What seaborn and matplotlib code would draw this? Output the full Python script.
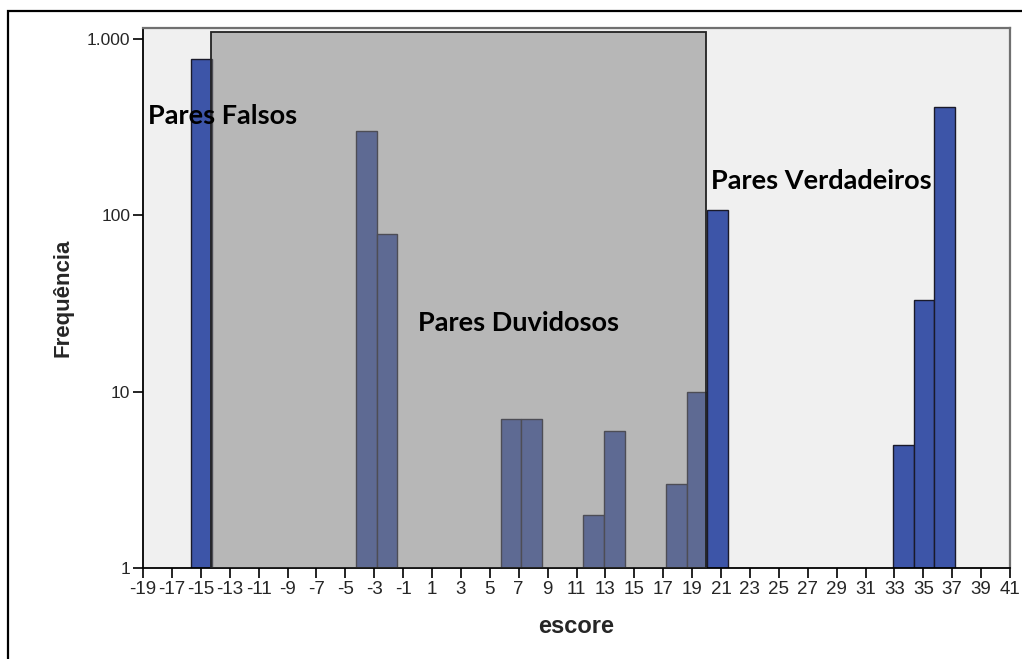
import numpy as np
import pandas as pd
import matplotlib
matplotlib.use("Agg")
import matplotlib.pyplot as plt
from matplotlib.patches import Rectangle
import seaborn as sns

# ---- data ----
bin_start = -15.68
bin_width = 1.429
n_bins = 37
bin_index = [0, 8, 9, 15, 16, 19, 20, 23, 24, 25, 34, 35, 36]
frequencia = [770, 300, 78, 7, 7, 2, 6, 3, 10, 108, 5, 33, 410]

x_ticks = list(range(-19, 42, 2))
x_tick_labels = [str(v) for v in x_ticks]
y_ticks = [1, 10, 100, 1000]
y_tick_labels = ["1", "10", "100", "1.000"]

region_duvidosos = (-14.3, 19.95)   # shaded region, score units
region_top = 1100

labels = ["Pares Falsos", "Pares Duvidosos", "Pares Verdadeiros"]
label_x = [-18.65, 0.0, 20.3]
label_y = [366, 24.5, 157]

# ---- build ----
centers = [bin_start + bin_width * (i + 0.5) for i in bin_index]
df = pd.DataFrame({"escore": centers, "freq": frequencia})

sns.set_style("white")
plt.rcParams["axes.unicode_minus"] = False

fig = plt.figure(figsize=(10.22, 6.59), dpi=100)
ax = fig.add_axes([143 / 1022, 1 - 568 / 659, 867 / 1022, 540 / 659])
ax.set_facecolor("#f0f0f0")

sns.histplot(data=df, x="escore", weights="freq", binwidth=bin_width,
             binrange=(bin_start, bin_start + n_bins * bin_width), ax=ax,
             color="#3d55a8", edgecolor="#1a1a2a", linewidth=1.0, alpha=1.0)

ax.set_yscale("log")
ax.set_xlim(-19, 41)
ax.set_ylim(1, 1156)
ax.set_xticks(x_ticks)
ax.set_xticklabels(x_tick_labels)
ax.set_yticks(y_ticks)
ax.set_yticklabels(y_tick_labels)
ax.minorticks_off()
ax.tick_params(axis="both", direction="out", length=7, width=1.2, color="black",
               pad=2, left=True, bottom=True)
ax.tick_params(axis="x", labelsize=13.5)
ax.tick_params(axis="y", labelsize=12.5)
for t in ax.get_xticklabels() + ax.get_yticklabels():
    t.set_fontfamily("Liberation Sans")

ax.set_xlabel("escore", fontsize=17, fontweight="bold", family="Liberation Sans")
ax.set_ylabel("Frequência", fontsize=16, fontweight="bold", family="Liberation Sans")
ax.xaxis.set_label_coords(0.5, -0.108)
ax.xaxis.label.set_va("center")
ax.yaxis.set_label_coords(-0.092, 0.5)
ax.yaxis.label.set_va("center")

for s in ["left", "bottom"]:
    ax.spines[s].set_color("black")
    ax.spines[s].set_linewidth(1.3)
for s in ["top", "right"]:
    ax.spines[s].set_color("#707070")
    ax.spines[s].set_linewidth(1.6)

# shaded "doubtful" region
ax.add_patch(Rectangle((region_duvidosos[0], 1), region_duvidosos[1] - region_duvidosos[0],
                       region_top - 1, facecolor="#808080", alpha=0.5,
                       edgecolor="none", zorder=3))
ax.add_patch(Rectangle((region_duvidosos[0], 1), region_duvidosos[1] - region_duvidosos[0],
                       region_top - 1, facecolor="none", edgecolor="#222222",
                       linewidth=1.3, zorder=3.1))

for txt, lx, ly in zip(labels, label_x, label_y):
    ax.text(lx, ly, txt, fontsize=19.5, fontweight="bold", family="Lato",
            ha="left", va="center", color="black", zorder=5)

# outer frame
fig.patches.append(Rectangle((8 / 1022, -0.2), 1.2, 1.2 - 11 / 659,
                             transform=fig.transFigure, fill=False,
                             edgecolor="black", linewidth=1.6))

fig.savefig("out.png", dpi=100)
